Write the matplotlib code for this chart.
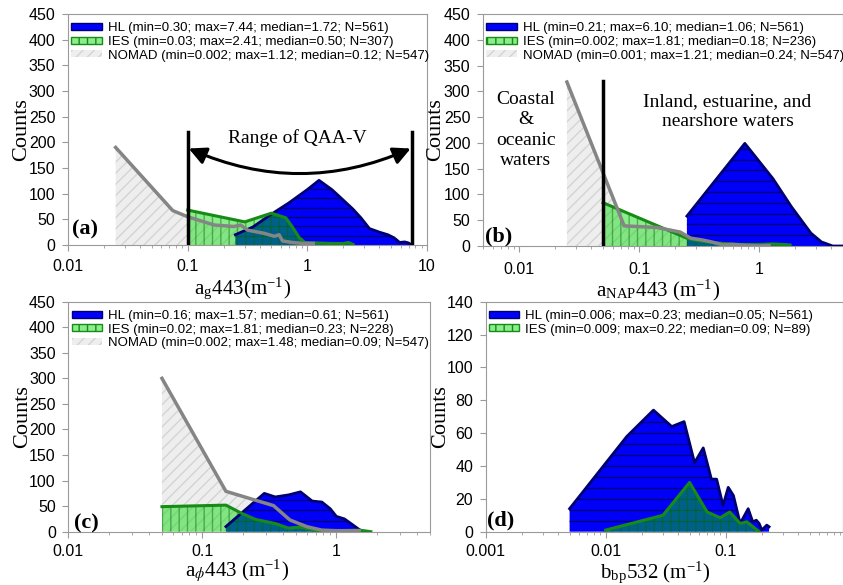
import matplotlib
matplotlib.use("Agg")
import numpy as np
import matplotlib.pyplot as plt
import matplotlib.patches as mpatches
from matplotlib import ticker

# ---- panel (a): a_g443 ----
a_nomad_x = [0.025, 0.075, 0.1, 0.166, 0.243, 0.277, 0.316, 0.43, 0.53, 0.58, 0.62, 0.74, 0.93, 1.12]
a_nomad_y = [190, 67, 55, 39, 36, 39, 29, 23, 17, 20, 8, 5, 3, 3]
a_ies_x = [0.1, 0.3, 0.5, 0.66, 0.75, 0.85, 0.95, 1.2, 1.6, 2.0, 2.2, 2.41]
a_ies_y = [68, 45, 62, 53, 35, 15, 5, 4, 3, 3, 5, 1]
a_hl_x = [0.25, 0.35, 0.5, 0.7, 1.0, 1.25, 1.6, 1.9, 2.4, 2.8, 3.3, 4.0, 4.7, 5.3, 5.9, 6.5, 7.0, 7.44]
a_hl_y = [20, 35, 60, 82, 108, 126, 108, 92, 70, 53, 32, 25, 20, 14, 5, 6, 4, 0]

# ---- panel (b): a_NAP443 ----
b_nomad_x = [0.025, 0.075, 0.14, 0.22, 0.27, 0.33, 0.4, 0.5, 0.6, 0.8, 1.0, 1.21]
b_nomad_y = [318, 39, 36, 27, 15, 12, 8, 2, 3, 1, 0, 1]
b_ies_x = [0.05, 0.25, 0.3, 0.4, 0.5, 0.7, 1.0, 1.3, 1.6, 1.81]
b_ies_y = [84, 15, 11, 7, 5, 3, 3, 4, 3, 2]
b_hl_x = [0.25, 0.76, 1.3, 1.86, 2.7, 3.3, 4.1, 5.0]
b_hl_y = [58, 199, 131, 76, 25, 8, 0, 0]

# ---- panel (c): a_phi443 ----
c_nomad_x = [0.05, 0.15, 0.34, 0.45, 0.6, 0.78, 1.0, 1.48]
c_nomad_y = [300, 79, 51, 23, 10, 3, 2, 2]
c_ies_x = [0.05, 0.15, 0.2, 0.25, 0.35, 0.44, 0.53, 0.7, 1.0, 1.5, 1.81]
c_ies_y = [49, 52, 35, 24, 16, 7, 9, 3, 2, 3, 0]
c_hl_x = [0.15, 0.29, 0.35, 0.44, 0.54, 0.66, 0.78, 0.9, 1.0, 1.15, 1.3, 1.45, 1.57]
c_hl_y = [10, 75, 68, 72, 78, 60, 58, 45, 30, 25, 15, 6, 0]

# ---- panel (d): b_bp532 ----
d_hl_x = [0.005, 0.015, 0.025, 0.0355, 0.045, 0.055, 0.065, 0.076, 0.084, 0.095,
          0.105, 0.116, 0.132, 0.154, 0.168, 0.18, 0.19, 0.2, 0.22, 0.23]
d_hl_y = [14, 58, 74, 64, 67, 42, 51, 32, 32, 16, 27, 22, 5, 14, 6, 7, 5, 1, 4, 3]
d_ies_x = [0.01, 0.03, 0.05, 0.07, 0.09, 0.108, 0.132, 0.15, 0.19]
d_ies_y = [1, 10, 30, 12, 8.5, 12, 5, 6, 0]

a_labels = ["HL (min=0.30; max=7.44; median=1.72; N=561)",
            "IES (min=0.03; max=2.41; median=0.50; N=307)",
            "NOMAD (min=0.002; max=1.12; median=0.12; N=547)"]
b_labels = ["HL (min=0.21; max=6.10; median=1.06; N=561)",
            "IES (min=0.002; max=1.81; median=0.18; N=236)",
            "NOMAD (min=0.001; max=1.21; median=0.24; N=547)"]
c_labels = ["HL (min=0.16; max=1.57; median=0.61; N=561)",
            "IES (min=0.02; max=1.81; median=0.23; N=228)",
            "NOMAD (min=0.002; max=1.48; median=0.09; N=547)"]
d_labels = ["HL (min=0.006; max=0.23; median=0.05; N=561)",
            "IES (min=0.009; max=0.22; median=0.09; N=89)"]

HL_FACE = "#0000f8"
HL_EDGE = "#000070"
IES_FACE = (0.0, 0.85, 0.0)
IES_EDGE = "#168c16"
NOMAD_FACE = "#eeeeee"
NOMAD_HATCH = "#d4d4d4"
NOMAD_LINE = "#858585"
SPINE = "#9a9a9a"
SERIF = "Liberation Serif"

plt.rcParams["font.family"] = "Liberation Sans"
plt.rcParams["mathtext.fontset"] = "stix"
plt.rcParams["hatch.linewidth"] = 1.0


def draw_hl(ax, x, y, step_px):
    poly = ax.fill_between(x, y, 0, facecolor=HL_FACE, edgecolor="none", lw=0, zorder=2)
    # horizontal hatch lines, clipped to the filled area
    clip = poly.get_paths()[0]
    step = step_px / ax.bbox.height
    for yf in np.arange(step, 1.0, step):
        ln, = ax.plot([0, 1], [yf, yf], transform=ax.transAxes, color=HL_EDGE, lw=0.9, zorder=2.1)
        ln.set_clip_path(clip, ax.transData)
    ax.plot(x, y, color=HL_EDGE, lw=2, zorder=4)


def draw_ies(ax, x, y):
    ax.fill_between(x, y, 0, facecolor=IES_FACE, alpha=0.45, lw=0, zorder=3)
    ax.fill_between(x, y, 0, facecolor="none", edgecolor=(0.0, 0.4, 0.0, 0.45), hatch="||", lw=0, zorder=3.1)
    ax.plot(x, y, color=IES_EDGE, lw=2.2, zorder=4.5)


def draw_nomad(ax, x, y):
    ax.fill_between(x, y, 0, facecolor=NOMAD_FACE, edgecolor=NOMAD_HATCH, hatch="///", lw=0, zorder=1)
    ax.plot(x, y, color=NOMAD_LINE, lw=2.5, zorder=5)


def style_axes(ax, xlim, ymax, ystep, xlabel, letter, letter_pos, ylab_x, xlab_pos, xpad):
    ax.set_xscale("log")
    ax.set_xlim(xlim)
    ax.set_ylim(0, ymax)
    ax.set_yticks(np.arange(0, ymax + 1, ystep))
    ax.xaxis.set_major_locator(ticker.LogLocator(base=10))
    ax.xaxis.set_major_formatter(ticker.FuncFormatter(lambda v, _: f"{v:g}"))
    ax.xaxis.set_minor_formatter(ticker.NullFormatter())
    for s in ax.spines.values():
        s.set_color(SPINE)
    ax.tick_params(which="both", direction="out", color=SPINE, labelsize=11.5, length=4)
    ax.tick_params(axis="y", pad=5)
    ax.tick_params(axis="x", which="both", pad=xpad)
    ax.tick_params(which="minor", length=2.5)
    ax.set_ylabel("Counts", family=SERIF, fontsize=16)
    ax.yaxis.set_label_coords(ylab_x, 0.5)
    ax.yaxis.label.set_verticalalignment("center")
    ax.set_xlabel(xlabel, family=SERIF, fontsize=15)
    ax.xaxis.set_label_coords(*xlab_pos)
    ax.xaxis.label.set_verticalalignment("baseline")
    ax.text(letter_pos[0], letter_pos[1], letter, transform=ax.transAxes, family=SERIF,
            fontsize=16, fontweight="bold", ha="center", va="center", zorder=6)


def add_legend(ax, labels):
    handles = [mpatches.Patch(facecolor=HL_FACE, edgecolor=HL_EDGE, lw=1.0),
               mpatches.Patch(facecolor=(0.55, 0.93, 0.55), edgecolor=IES_EDGE, hatch="||", lw=1),
               mpatches.Patch(facecolor=NOMAD_FACE, edgecolor=NOMAD_HATCH, hatch="///", lw=0)]
    ax.legend(handles[:len(labels)], labels, loc="upper left", bbox_to_anchor=(0.0, 0.978),
              frameon=False, fontsize=9.5, labelspacing=0.12, handlelength=2.3,
              handleheight=0.45, handletextpad=0.45, borderpad=0.25, borderaxespad=0)


fig = plt.figure(figsize=(8.43, 5.85), dpi=100)
ax_a = fig.add_axes([0.0807, 0.5812, 0.4259, 0.3949])
ax_b = fig.add_axes([0.5730, 0.5795, 0.4270, 0.3966])
ax_c = fig.add_axes([0.0810, 0.0911, 0.4291, 0.3932])
ax_d = fig.add_axes([0.5762, 0.0911, 0.4238, 0.3932])

# (a)
draw_nomad(ax_a, a_nomad_x, a_nomad_y)
draw_hl(ax_a, a_hl_x, a_hl_y, 9.3)
draw_ies(ax_a, a_ies_x, a_ies_y)
ax_a.plot([0.1, 0.1], [0, 220], color="black", lw=2.5, zorder=6)
ax_a.plot([7.44, 7.44], [0, 220], color="black", lw=2.5, zorder=6)
ax_a.annotate("", xy=(7.3, 188), xytext=(0.102, 188),
              arrowprops=dict(arrowstyle="<|-|>", color="black", lw=2.2, mutation_scale=26,
                              shrinkA=0, shrinkB=0, connectionstyle="arc3,rad=0.22"), zorder=6)
ax_a.text(0.83, 208, "Range of QAA-V", family=SERIF, fontsize=14, ha="center", va="center")
style_axes(ax_a, (0.01, 10), 450, 50, "a$_{\\mathregular{g}}$443(m$^{\\mathregular{-1}}$)",
           "(a)", (0.047, 0.065), -0.13, (0.485, -0.214), 6)
add_legend(ax_a, a_labels)

# (b)
draw_nomad(ax_b, b_nomad_x, b_nomad_y)
draw_hl(ax_b, b_hl_x, b_hl_y, 10.8)
draw_ies(ax_b, b_ies_x, b_ies_y)
ax_b.plot([0.05, 0.05], [0, 320], color="black", lw=2.5, zorder=6)
ax_b.text(0.119, 0.5, "Coastal\n&\noceanic\nwaters", transform=ax_b.transAxes, family=SERIF,
          fontsize=14, ha="center", va="center", linespacing=1.25)
ax_b.text(0.679, 0.579, "Inland, estuarine, and\nnearshore waters", transform=ax_b.transAxes,
          family=SERIF, fontsize=14, ha="center", va="center", linespacing=1.25)
style_axes(ax_b, (0.005, 5), 450, 50, "a$_{\\mathregular{NAP}}$443 (m$^{\\mathregular{-1}}$)",
           "(b)", (0.043, 0.04), -0.133, (0.486, -0.215), 7.5)
add_legend(ax_b, b_labels)

# (c)
draw_nomad(ax_c, c_nomad_x, c_nomad_y)
draw_hl(ax_c, c_hl_x, c_hl_y, 10.7)
draw_ies(ax_c, c_ies_x, c_ies_y)
style_axes(ax_c, (0.01, 5), 450, 50, "a$_{\\phi}$443 (m$^{\\mathregular{-1}}$)",
           "(c)", (0.049, 0.037), -0.127, (0.467, -0.196), 4.5)
add_legend(ax_c, c_labels)

# (d)
draw_hl(ax_d, d_hl_x, d_hl_y, 11)
draw_ies(ax_d, d_ies_x, d_ies_y)
style_axes(ax_d, (0.001, 0.95), 140, 20, "b$_{\\mathregular{bp}}$532 (m$^{\\mathregular{-1}}$)",
           "(d)", (0.043, 0.05), -0.127, (0.476, -0.2), 5)
add_legend(ax_d, d_labels)

fig.savefig("out.png", dpi=100)
